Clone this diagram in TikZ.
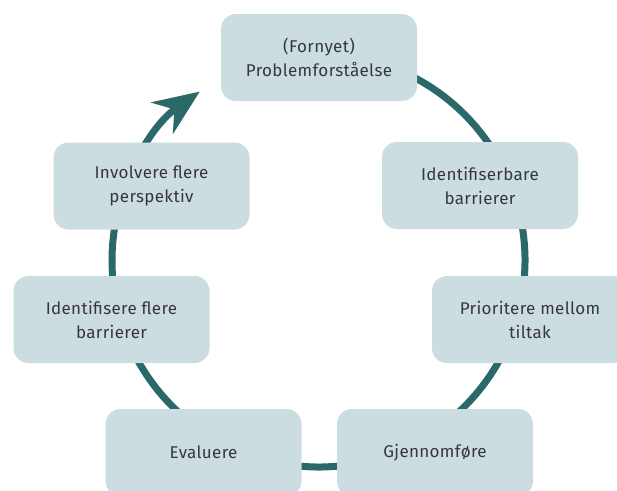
\documentclass[tikz,border=0pt]{standalone}
\usepackage{fontspec}
\setmainfont{Fira Sans}[LetterSpace=2]
\usetikzlibrary{arrows.meta, positioning, calc}
\definecolor{ringcol}{RGB}{42,104,106}
\definecolor{boxfill}{RGB}{203,221,224}
\definecolor{txtcol}{RGB}{55,55,55}
\tikzset{
    phase/.style={rectangle, rounded corners=15pt, fill=boxfill, minimum width=196pt, minimum height=87pt, align=center, text=txtcol, font=\fontsize{17}{24}\selectfont},
    ring/.style={draw=ringcol, line width=7pt, -{Stealth[length=46pt, width=38pt, inset=15pt]}},
}
\begin{document}
\begin{tikzpicture}[x=1pt, y=1pt]
            \useasboundingbox (0,-490) rectangle (617,0);
            \clip (0,-490) rectangle (617,0);
            \coordinate (c) at (318.5,-260.5);
            % the cycle behind the boxes
            \draw [ring] ($(c)+(85:206.5)$) arc [start angle=85, end angle=-234.9, radius=206.5];
            \node [phase] (top) at (319,-57.5) {(Fornyet)\\Problemforståelse};
            \node [phase] (ident) at (480,-185.5) {Identifiserbare\\barrierer};
            \node [phase] (prio) at (530,-319.5) {Prioritere mellom\\tiltak};
            \node [phase] (gjen) at (435,-452.5) {Gjennomføre};
            \node [phase] (eval) [left = 35pt of gjen] {Evaluere};
            \node [phase] (flere) at (111.5,-319.5) {Identifisere flere\\barrierer};
            \node [phase] (inv) at (151.5,-186) {Involvere flere\\perspektiv};
        \end{tikzpicture}
\end{document}
